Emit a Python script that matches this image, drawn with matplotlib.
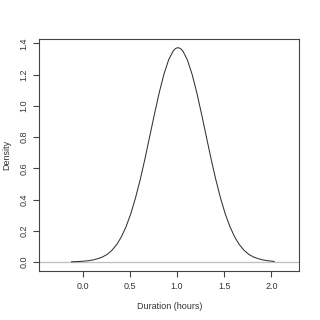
import matplotlib
matplotlib.use("Agg")
import matplotlib.pyplot as plt

# points
dur_x = [-0.12, -0.04, 0.01, 0.06, 0.11, 0.16, 0.21, 0.26, 0.31, 0.36, 0.41,
         0.46, 0.51, 0.56, 0.61, 0.66, 0.71, 0.76, 0.81, 0.86, 0.91, 0.96,
         0.985, 1.01, 1.035, 1.06, 1.11, 1.16, 1.21, 1.26, 1.31, 1.36, 1.41,
         1.46, 1.51, 1.56, 1.61, 1.66, 1.71, 1.76, 1.81, 1.86, 1.91, 1.96,
         2.01, 2.03]
dens_y = [0.002, 0.004, 0.006, 0.009, 0.014, 0.022, 0.033, 0.050, 0.076, 0.112, 0.162,
          0.228, 0.310, 0.412, 0.530, 0.662, 0.804, 0.946, 1.082, 1.200, 1.293, 1.352,
          1.367, 1.372, 1.367, 1.352, 1.293, 1.200, 1.082, 0.946, 0.804, 0.662, 0.530,
          0.412, 0.310, 0.228, 0.162, 0.112, 0.076, 0.050, 0.033, 0.022, 0.014, 0.009,
          0.006, 0.004]

x_ticks = [0.0, 0.5, 1.0, 1.5, 2.0]
y_ticks = [0.0, 0.2, 0.4, 0.6, 0.8, 1.0, 1.2, 1.4]

plt.rcParams['font.family'] = ['Liberation Sans', 'DejaVu Sans']

fig = plt.figure(figsize=(3.2, 3.2), dpi=100)
ax = fig.add_axes([0.123, 0.154, 0.812, 0.723])

ax.axhline(0, color='#bebebe', lw=0.9, zorder=1)
ax.plot(dur_x, dens_y, color='#333333', lw=0.75, zorder=2)

ax.set_xlim(-0.46, 2.295)
ax.set_ylim(-0.055, 1.425)
ax.set_xticks(x_ticks)
ax.set_xticklabels([f"{v:.1f}" for v in x_ticks])
ax.set_yticks(y_ticks)
ax.set_yticklabels([f"{v:.1f}" for v in y_ticks], rotation=90, va='center')

for s in ax.spines.values():
    s.set_color('#444444')
    s.set_linewidth(0.8)
ax.tick_params(length=4, width=0.8, color='#444444', labelsize=6.5,
               labelcolor='#333333', pad=4)

ax.set_xlabel("Duration (hours)", fontsize=6.5, color='#333333', labelpad=8)
ax.set_ylabel("Density", fontsize=6.5, color='#333333', labelpad=6)

fig.savefig("out.png", dpi=100)
